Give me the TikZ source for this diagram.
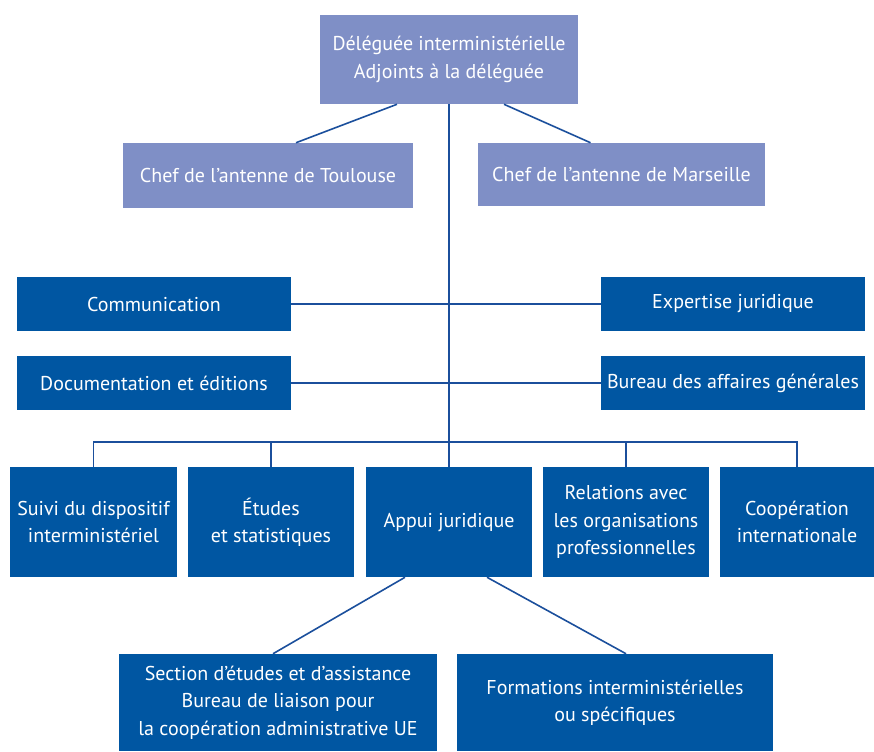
\documentclass[tikz,border=0pt]{standalone}
\usepackage{fontspec}
\setmainfont{PT Sans}
\usetikzlibrary{calc}
\definecolor{palebleu}{HTML}{7F8FC6}
\definecolor{bleufonce}{HTML}{0056A2}
\definecolor{trait}{HTML}{1B4F9C}
\tikzset{
  boite/.style={fill=bleufonce,text=white,align=center,inner sep=0pt,
    font=\fontsize{15}{20.5}\selectfont},
  boiteclaire/.style={boite,fill=palebleu},
  lien/.style={draw=trait,line width=1.2pt}
}

\begin{document}
\begin{tikzpicture}[x=0.75pt,y=-0.75pt]
            \useasboundingbox (0,0) rectangle (874,751);
            \node[boiteclaire,minimum width=258*0.75pt,minimum height=89*0.75pt] (deleguee) at (449,59.5) {Déléguée interministérielle\\Adjoints à la déléguée};
            \node[boiteclaire,minimum width=290*0.75pt,minimum height=65*0.75pt] (toulouse) at (268,175.5) {Chef de l'antenne de Toulouse};
            \node[boiteclaire,minimum width=287*0.75pt,minimum height=63*0.75pt] (marseille) at (621.5,174.5) {Chef de l'antenne de Marseille};

            \node[boite,minimum width=274*0.75pt,minimum height=54*0.75pt] (comm) at (154,304) {Communication};
            \node[boite,minimum width=264*0.75pt,minimum height=54*0.75pt] (expertise) at (733,304) {Expertise juridique};
            \node[boite,minimum width=274*0.75pt,minimum height=54*0.75pt] (doc) at (154,383) {Documentation et éditions};
            \node[boite,minimum width=264*0.75pt,minimum height=54*0.75pt] (bureau) at (733,383) {Bureau des affaires générales};

            \node[boite,minimum width=167*0.75pt,minimum height=110*0.75pt] (suivi) at (93.5,522) {Suivi du dispositif\\interministériel};
            \node[boite,minimum width=166*0.75pt,minimum height=110*0.75pt] (etudes) at (271,522) {Études\\et statistiques};
            \node[boite,minimum width=166*0.75pt,minimum height=110*0.75pt] (appui) at (449,522) {Appui juridique};
            \node[boite,minimum width=166*0.75pt,minimum height=110*0.75pt] (relations) at (626,522) {Relations avec\\les organisations\\professionnelles};
            \node[boite,minimum width=154*0.75pt,minimum height=110*0.75pt] (coop) at (797,522) {Coopération\\internationale};

            \node[boite,minimum width=318*0.75pt,minimum height=97*0.75pt] (section) at (278,702.5) {Section d'études et d'assistance\\Bureau de liaison pour\\la coopération administrative UE};
            \node[boite,minimum width=316*0.75pt,minimum height=97*0.75pt] (formations) at (615,702.5) {Formations interministérielles\\ou spécifiques};

            \coordinate (bus) at (449,442);
            \draw[lien] (deleguee.south) -- (appui.north);
            \draw[lien] ($(deleguee.south)+(-52,0)$) -- ($(toulouse.north)+(28,0)$);
            \draw[lien] ($(deleguee.south)+(55,0)$) -- ($(marseille.north)+(-31,0)$);
            \draw[lien] (comm.east) -- (expertise.west);
            \draw[lien] (doc.east) -- (bureau.west);
            \draw[lien] (suivi.north) |- (bus) -| (coop.north);
            \draw[lien] (etudes.north) -- (etudes.north |- bus);
            \draw[lien] (relations.north) -- (relations.north |- bus);
            \draw[lien] ($(appui.south)+(-44,0)$) -- ($(section.north)+(-5,0)$);
            \draw[lien] ($(appui.south)+(38,0)$) -- ($(formations.north)+(11,0)$);
        \end{tikzpicture}
\end{document}
